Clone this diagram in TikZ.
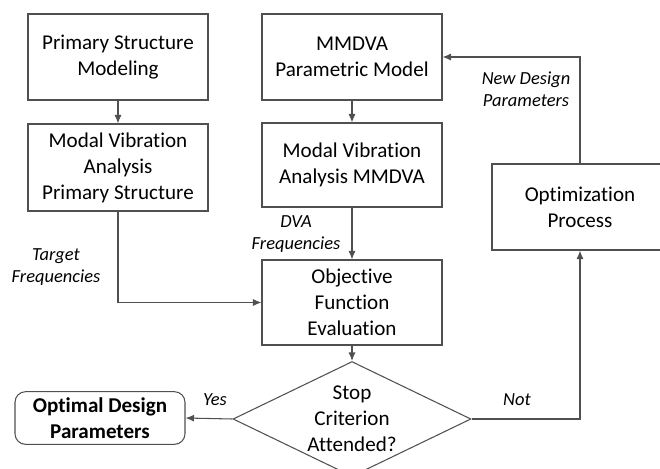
\documentclass[tikz,border=0pt]{standalone}
\usepackage{fontspec}
\setmainfont{Carlito}[Ligatures=NoCommon]
\usetikzlibrary{arrows.meta,positioning,shapes.geometric}
\definecolor{linec}{HTML}{505050}

\begin{document}
\begin{tikzpicture}[x=0.02cm,y=-0.02cm,font=\fontsize{12}{14.8}\selectfont,
  blk/.style={draw=linec,line width=0.6pt,align=center,inner sep=2pt,
              minimum width=3.6cm,minimum height=1.72cm},
  dec/.style={draw=linec,line width=0.6pt,diamond,inner sep=0pt,
              minimum width=4.76cm,minimum height=2.3cm},
  lbl/.style={font=\fontsize{10.5}{12.6}\selectfont\itshape,align=center},
  ar/.style={-{Latex[length=1.7mm,width=1.4mm]},line width=0.6pt,linec},
]
\useasboundingbox (0,0) rectangle (660,468);
% left column
\node[blk] (pss) at (118,57) {Primary Structure\\ Modeling};
\node[blk,minimum height=1.74cm] (mva) at (118,167.5) {Modal Vibration\\ Analysis\\ Primary Structure};
% middle column
\node[blk] (mmd) at (352,57) {MMDVA\\ Parametric Model};
\node[blk,minimum height=1.68cm] (mvm) at (352,165) {Modal Vibration\\ Analysis MMDVA};
\node[blk,minimum height=1.7cm] (ofe) at (352,302.5) {Objective\\ Function\\ Evaluation};
\node[dec] (stop) at (352,419) {};
\node[align=center] at (stop) {Stop\\ Criterion\\ Attended?};
% outputs and loop
\node[draw=linec,line width=0.6pt,rounded corners=6pt,align=center,
      minimum width=3.4cm,minimum height=0.96cm,font=\fontsize{12}{14.8}\selectfont\bfseries]
      (odp) at (100,418) {Optimal Design\\ Parameters};
\node[blk,minimum width=3.52cm] (opt) at (580,207) {Optimization\\ Process};

\draw[ar] (pss) -- (mva);
\draw[ar] (mmd) -- (mvm);
\draw[ar] (mvm) -- (ofe);
\draw[ar] (mva.south) |- (ofe.west);
\draw[ar] (ofe) -- (stop);
\draw[ar] (stop.west) -- (odp.east);
\draw[ar] (stop.east) -| (opt.south);
\draw[ar] (opt.north) |- (mmd.east);

\node[lbl] (tf) at (56,267) {Target\\ Frequencies};
\node[lbl] (df) at (296,234) {DVA\\ Frequencies};
\node[lbl] (nd) at (526,89) {New Design\\ Parameters};
\node[lbl] (yes) at (215,400) {Yes};
\node[lbl] (no) at (517,400) {Not};
\end{tikzpicture}
\end{document}
